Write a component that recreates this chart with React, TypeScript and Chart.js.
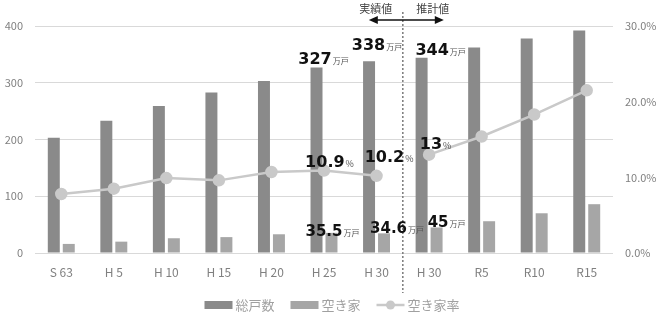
import { useEffect, useRef } from "react";
import { Chart, registerables } from "chart.js";
Chart.register(...registerables);

const categories = ["S 63", "H 5", "H 10", "H 15", "H 20", "H 25", "H 30", "H 30", "R5", "R10", "R15"];
const totalHouses = [203, 233, 259, 283, 303, 327, 338, 344, 362, 378, 392];
const vacantHouses = [16, 20, 26, 28, 33, 35.5, 34.6, 45, 56, 70, 86];
const vacancyRate = [7.8, 8.5, 9.9, 9.6, 10.7, 10.9, 10.2, 13, 15.4, 18.3, 21.5];
const leftTicks = [0, 100, 200, 300, 400];
const rightTicks = [0, 10, 20, 30];
const seriesNames = ["総戸数", "空き家", "空き家率"];
const periodLabels = ["実績値", "推計値"];
const unitHouses = "万戸";
const unitPct = "%";
const labeledIdx = [5, 6, 7];
const lastActualIdx = 6;

// label offsets (style only)
const totalOffsets = [[-1, -3], [0, -11], [11, -3]];
const rateOffsets = [[5, -4], [12, -14], [6, -6]];
const vacantOffsets = [[8, 3], [20, 0], [17, 0]];

const FONT = "'Noto Sans CJK JP', 'Noto Sans', sans-serif";
const NUMFONT = "'DejaVu Sans', 'Noto Sans', sans-serif";
const C_TOTAL = "#8a8a8a";
const C_VACANT = "#a6a6a6";
const C_RATE = "#c9c9c9";
const C_TEXT = "#808080";

function drawNumLabel(ctx: CanvasRenderingContext2D, num: string, unit: string, cx: number, base: number, big: number, small: number) {
  ctx.font = `bold ${big}px ${NUMFONT}`;
  const w1 = ctx.measureText(num).width;
  ctx.font = `${small}px ${FONT}`;
  const w2 = ctx.measureText(unit).width;
  const x0 = cx - (w1 + w2) / 2;
  ctx.textAlign = "left";
  ctx.textBaseline = "alphabetic";
  ctx.fillStyle = "#111";
  ctx.font = `bold ${big}px ${NUMFONT}`;
  ctx.fillText(num, x0, base);
  ctx.fillStyle = "#555";
  ctx.font = `${small}px ${FONT}`;
  ctx.fillText(unit, x0 + w1 + 1, base);
}

const annotPlugin = {
  id: "annot",
  afterDatasetsDraw(chart: any) {
    const ctx: CanvasRenderingContext2D = chart.ctx;
    const x = chart.scales.x;
    const y = chart.scales.y;
    const y2 = chart.scales.y2;
    ctx.save();
    // divider
    const divX = (x.getPixelForValue(lastActualIdx) + x.getPixelForValue(lastActualIdx + 1)) / 2;
    ctx.strokeStyle = "#7a7a7a";
    ctx.lineWidth = 1.5;
    ctx.setLineDash([2, 2]);
    ctx.beginPath();
    ctx.moveTo(divX, 12);
    ctx.lineTo(divX, 293);
    ctx.stroke();
    ctx.setLineDash([]);
    // arrow
    const ay = 20;
    const ax0 = divX - 34;
    const ax1 = divX + 41;
    ctx.strokeStyle = "#111";
    ctx.fillStyle = "#111";
    ctx.lineWidth = 1.5;
    ctx.beginPath();
    ctx.moveTo(ax0 + 6, ay);
    ctx.lineTo(ax1 - 6, ay);
    ctx.stroke();
    ctx.beginPath();
    ctx.moveTo(ax0, ay);
    ctx.lineTo(ax0 + 9, ay - 4);
    ctx.lineTo(ax0 + 9, ay + 4);
    ctx.closePath();
    ctx.fill();
    ctx.beginPath();
    ctx.moveTo(ax1, ay);
    ctx.lineTo(ax1 - 9, ay - 4);
    ctx.lineTo(ax1 - 9, ay + 4);
    ctx.closePath();
    ctx.fill();
    ctx.font = `11px ${FONT}`;
    ctx.fillStyle = "#444";
    ctx.textAlign = "center";
    ctx.textBaseline = "middle";
    ctx.fillText(periodLabels[0], divX - 27, 9);
    ctx.fillText(periodLabels[1], divX + 30, 9);

    labeledIdx.forEach((i, k) => {
      const cx = x.getPixelForValue(i);
      drawNumLabel(ctx, String(totalHouses[i]), unitHouses, cx + totalOffsets[k][0], y.getPixelForValue(totalHouses[i]) + totalOffsets[k][1], 16, 8);
      drawNumLabel(ctx, String(vacancyRate[i]), unitPct, cx + rateOffsets[k][0], y2.getPixelForValue(vacancyRate[i]) + rateOffsets[k][1], 16, 9);
      drawNumLabel(ctx, String(vacantHouses[i]), unitHouses, cx + vacantOffsets[k][0], y.getPixelForValue(vacantHouses[i]) + vacantOffsets[k][1], 15, 8);
    });
    ctx.restore();
  },
  afterDraw(chart: any) {
    const ctx: CanvasRenderingContext2D = chart.ctx;
    ctx.save();
    ctx.font = `13px ${FONT}`;
    const sw = 28;
    const gapText = 3;
    const gapItem = 16;
    const widths = seriesNames.map((n) => sw + gapText + ctx.measureText(n).width);
    const total = widths.reduce((a, b) => a + b, 0) + gapItem * (widths.length - 1);
    let px = chart.width / 2 - total / 2;
    const cy = 305;
    const colors = [C_TOTAL, C_VACANT, C_RATE];
    seriesNames.forEach((n, i) => {
      if (i < 2) {
        ctx.fillStyle = colors[i];
        ctx.fillRect(px, cy - 4, sw, 8);
      } else {
        ctx.strokeStyle = C_RATE;
        ctx.lineWidth = 2.5;
        ctx.beginPath();
        ctx.moveTo(px, cy);
        ctx.lineTo(px + sw, cy);
        ctx.stroke();
        ctx.fillStyle = C_RATE;
        ctx.beginPath();
        ctx.arc(px + sw / 2, cy, 4.5, 0, Math.PI * 2);
        ctx.fill();
      }
      ctx.fillStyle = "#a0a0a0";
      ctx.textAlign = "left";
      ctx.textBaseline = "middle";
      ctx.fillText(n, px + sw + gapText, cy);
      px += widths[i] + gapItem;
    });
    ctx.restore();
  },
};

export default function App() {
  const ref = useRef<HTMLCanvasElement | null>(null);
  useEffect(() => {
    if (!ref.current) return;
    const chart = new Chart(ref.current, {
      type: "bar",
      data: {
        labels: categories,
        datasets: [
          {
            type: "line",
            label: seriesNames[2],
            data: vacancyRate,
            yAxisID: "y2",
            borderColor: C_RATE,
            backgroundColor: C_RATE,
            borderWidth: 2.5,
            pointRadius: 5,
            pointBackgroundColor: C_RATE,
            pointBorderColor: C_RATE,
            tension: 0,
            order: 0,
            segment: {
              borderColor: (c: any) => (c.p0DataIndex === lastActualIdx ? "rgba(0,0,0,0)" : C_RATE),
            },
          } as any,
          {
            type: "bar",
            label: seriesNames[0],
            data: totalHouses,
            yAxisID: "y",
            backgroundColor: C_TOTAL,
            categoryPercentage: 0.57,
            barPercentage: 0.8,
            order: 1,
          },
          {
            type: "bar",
            label: seriesNames[1],
            data: vacantHouses,
            yAxisID: "y",
            backgroundColor: C_VACANT,
            categoryPercentage: 0.57,
            barPercentage: 0.8,
            order: 1,
          },
        ],
      },
      options: {
        responsive: false,
        animation: false,
        layout: { padding: { top: 26, left: 0, right: 0, bottom: 0 } },
        plugins: { legend: { display: false }, tooltip: { enabled: false } },
        scales: {
          x: {
            grid: { display: false, drawTicks: false },
            border: { display: false },
            ticks: { color: C_TEXT, font: { family: FONT, size: 12 }, padding: 12 },
            afterFit: (s: any) => { s.height = 66; },
          },
          y: {
            position: "left",
            min: 0,
            max: 400,
            afterBuildTicks: (s: any) => { s.ticks = leftTicks.map((v) => ({ value: v })); },
            grid: { color: "#d9d9d9", drawTicks: false, lineWidth: 1 },
            border: { display: false },
            ticks: { color: C_TEXT, font: { family: FONT, size: 11 }, padding: 12 },
            afterFit: (s: any) => { s.width = 35; },
          },
          y2: {
            position: "right",
            min: 0,
            max: 30,
            afterBuildTicks: (s: any) => { s.ticks = rightTicks.map((v) => ({ value: v })); },
            grid: { display: false, drawTicks: false },
            border: { display: false },
            ticks: {
              color: C_TEXT,
              font: { family: FONT, size: 11 },
              padding: 12,
              callback: (v: any) => `${Number(v).toFixed(1)}%`,
            },
            afterFit: (s: any) => { s.width = 51; },
          },
        },
      },
      plugins: [annotPlugin],
    });
    return () => chart.destroy();
  }, []);
  return (
    <div style={{ position: "absolute", left: 0, top: 0, width: 664, height: 319, background: "#fff" }}>
      <canvas ref={ref} width={664} height={319} style={{ display: "block" }} />
    </div>
  );
}
